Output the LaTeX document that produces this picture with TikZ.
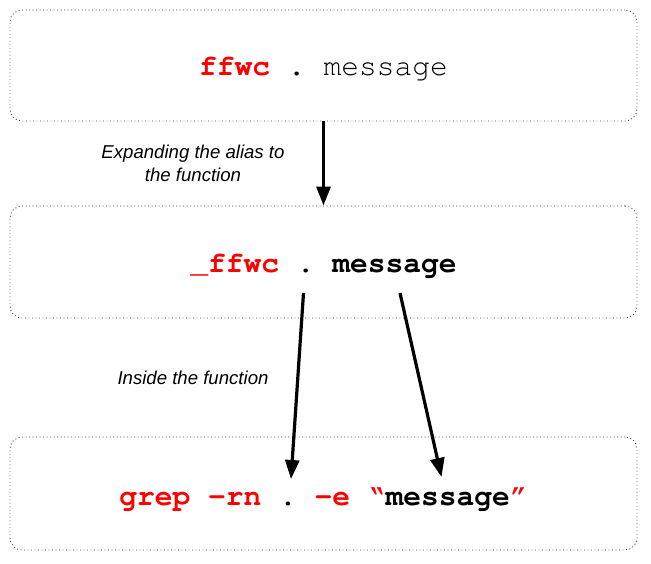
\documentclass[tikz,border=0pt]{standalone}
\usepackage[T1,TU]{fontenc}
\usepackage{fontspec}
\setmainfont{Liberation Sans}
\newcommand\courierfont{\fontencoding{T1}\fontfamily{pcr}\selectfont\frenchspacing}
\usetikzlibrary{arrows.meta}
\definecolor{codered}{RGB}{255,0,0}
\begin{document}
\begin{tikzpicture}[x=1pt,y=1pt,
  panel/.style={draw=black!75, line width=0.9pt, dash pattern=on 0.9pt off 2.6pt, rounded corners=12pt, minimum width=627pt, inner sep=0pt},
  code/.style={font=\courierfont\fontsize{29.6}{32}\selectfont, inner sep=0pt, anchor=base},
  note/.style={font=\itshape\fontsize{18.6}{23}\selectfont, align=center, inner sep=0pt},
  flow/.style={line width=3.2pt, -{Triangle[length=19pt,width=14pt]}}]
\useasboundingbox (0,0) rectangle (651,563);
% panels
\node[panel, minimum height=111pt] (top) at (323.5,497.5) {};
\node[panel, minimum height=112pt] (mid) at (323.5,301) {};
\node[panel, minimum height=113pt] (bot) at (323.5,69.5) {};
% texts
\node[code] (toptext) at (323.5,487) {\textcolor{codered}{\bfseries ffwc} . message};
\node[code] (midtext) at (323.5,290) {\bfseries\textcolor{codered}{\_ffwc} . message};
\node[code] (bottext) at (323.5,58) {\bfseries\textcolor{codered}{grep -rn} . \textcolor{codered}{-e ``}message\textcolor{codered}{''}};
% labels
\node[note] (lab1) at (193,399.5) {Expanding the alias to\\the function};
\node[note] (lab2) at (193,185) {Inside the function};
% arrow end points
\coordinate (dotsrc) at (303.5,270);
\coordinate (dotdst) at (291,84);
\coordinate (msgsrc) at (400,270);
\coordinate (msgdst) at (441.5,86);
% connectors
\draw[flow] (top.south) -- (mid.north);
\draw[flow] (dotsrc) -- (dotdst);
\draw[flow] (msgsrc) -- (msgdst);
\end{tikzpicture}
\end{document}
